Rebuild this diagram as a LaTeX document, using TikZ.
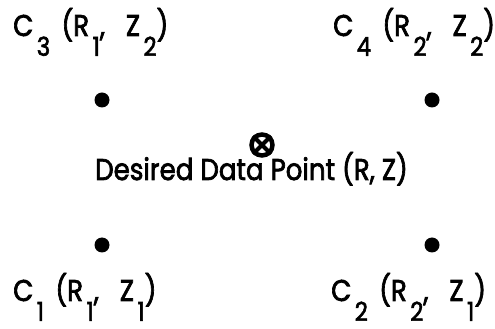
\documentclass[tikz,border=0pt]{standalone}
\usepackage{fontspec}
\setmainfont{Poppins}[FakeBold=2.5]
\usetikzlibrary{positioning}
\newcommand{\lo}[1]{\kern4pt\raisebox{-0.66em}{\fontsize{26}{30}\selectfont #1}}
\newcommand{\narrow}[1]{\scalebox{0.87}[1]{#1}}
\tikzset{
    grid pt/.style={circle, fill=black, inner sep=0pt, minimum size=15pt},
    pt label/.style={anchor=base west, inner sep=0pt, font=\fontsize{30}{34}\selectfont}
}
\begin{document}
\begin{tikzpicture}[x=1pt, y=1pt]
            \useasboundingbox (0,0) rectangle (495,329);
            \node[grid pt] (C3) at (102,229) {};
            \node[grid pt] (C4) at (432,229) {};
            \node[grid pt] (C1) at (102,84) {};
            \node[grid pt] (C2) at (432,84) {};
            \node[circle, draw, line width=4.5pt, minimum size=21pt, inner sep=0pt] (P) at (262,184) {};
            \draw[line width=4pt] (P.45) -- (P.225) (P.135) -- (P.315);
            \node[pt label] (L3) at (13,293) {\narrow{C\lo{3}\kern13pt(R\lo{1},\kern24pt Z\lo{2})}};
            \node[pt label] (L4) at (333,293) {\narrow{C\lo{4}\kern13pt(R\lo{2},\kern24pt Z\lo{2})}};
            \node[pt label] (LP) at (95,149) {\narrow{Desired Data Point (R, Z)}};
            \node[pt label] (L1) at (13,28) {\narrow{C\lo{1}\kern13pt(R\lo{1},\kern24pt Z\lo{1})}};
            \node[pt label] (L2) at (331,28) {\narrow{C\lo{2}\kern13pt(R\lo{2},\kern24pt Z\lo{1})}};
        \end{tikzpicture}
\end{document}
